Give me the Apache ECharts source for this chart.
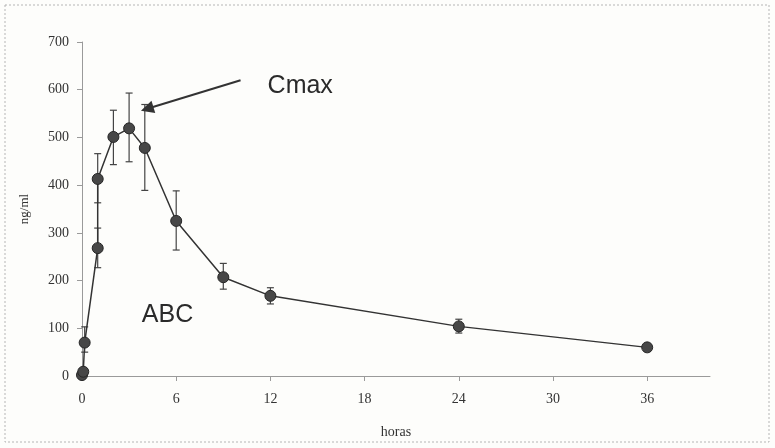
<!DOCTYPE html>
<html>
<head>
<meta charset="utf-8">
<script src="https://cdn.jsdelivr.net/npm/echarts@6/dist/echarts.min.js"></script>
<style>
html,body{margin:0;padding:0;background:#fdfdfb;}
#chart{width:775px;height:448px;}
</style>
</head>
<body>
<div id="chart"></div>
<script>
// horas / ng/ml
const hours = [0, 0.08, 0.17, 1, 1, 2, 3, 4, 6, 9, 12, 24, 36];
const conc = [2, 9, 70, 268, 413, 501, 519, 478, 325, 207, 168, 104, 60];
const errLow = [2, 9, 50, 227, 363, 443, 449, 389, 264, 182, 151, 90, 60];
const errHigh = [2, 9, 103, 310, 466, 557, 593, 569, 388, 236, 185, 119, 60];
const xTicks = [0, 6, 12, 18, 24, 30, 36];

const serif = '"Liberation Serif", "DejaVu Serif", serif';
const sans = '"Liberation Sans", Arial, sans-serif';

var chart = echarts.init(document.getElementById('chart'));

var option = {
  backgroundColor: '#fdfdfb',
  animation: false,
  grid: { left: 82, right: 65, top: 42, bottom: 72 },
  graphic: [{
    type: 'rect',
    shape: { x: 5, y: 5, width: 764, height: 437 },
    style: { fill: 'none', stroke: '#b5b5b5', lineWidth: 1, lineDash: [2, 2] },
    silent: true
  }],
  xAxis: {
    type: 'value',
    min: 0, max: 40, interval: 6,
    name: 'horas',
    nameLocation: 'middle',
    nameGap: 49,
    nameTextStyle: { fontFamily: serif, fontSize: 14, color: '#333' },
    splitLine: { show: false },
    axisLine: { lineStyle: { color: '#9a9a9a', width: 1 } },
    axisTick: { show: true, length: 5, customValues: xTicks, lineStyle: { color: '#9a9a9a' } },
    axisLabel: { customValues: xTicks, margin: 16, fontFamily: serif, fontSize: 14, color: '#333' }
  },
  yAxis: {
    type: 'value',
    min: 0, max: 700, interval: 100,
    name: 'ng/ml',
    nameLocation: 'middle',
    nameGap: 51,
    nameRotate: 90,
    nameTextStyle: { fontFamily: serif, fontSize: 13, color: '#333' },
    splitLine: { show: false },
    axisLine: { show: true, lineStyle: { color: '#9a9a9a', width: 1 } },
    axisTick: { show: true, length: 5, lineStyle: { color: '#9a9a9a' } },
    axisLabel: { margin: 13, fontFamily: serif, fontSize: 14, color: '#333' }
  },
  series: [
    {
      type: 'custom',
      name: 'error',
      data: hours.map(function (h, i) { return [h, errLow[i], errHigh[i]]; }),
      encode: { x: 0, y: [1, 2] },
      z: 2,
      renderItem: function (params, api) {
        var lo = api.value(1), hi = api.value(2);
        if (lo === hi) return null;
        var p1 = api.coord([api.value(0), lo]);
        var p2 = api.coord([api.value(0), hi]);
        var w = 3.5;
        var st = { stroke: '#444', lineWidth: 1.2 };
        return {
          type: 'group',
          children: [
            { type: 'line', shape: { x1: p1[0], y1: p1[1], x2: p2[0], y2: p2[1] }, style: st },
            { type: 'line', shape: { x1: p1[0] - w, y1: p1[1], x2: p1[0] + w, y2: p1[1] }, style: st },
            { type: 'line', shape: { x1: p2[0] - w, y1: p2[1], x2: p2[0] + w, y2: p2[1] }, style: st }
          ]
        };
      }
    },
    {
      type: 'line',
      name: 'conc',
      data: hours.map(function (h, i) { return [h, conc[i]]; }),
      z: 3,
      symbol: 'circle',
      symbolSize: 11,
      showAllSymbol: true,
      lineStyle: { color: '#333', width: 1.5 },
      itemStyle: { color: '#474747', borderColor: '#262626', borderWidth: 1 },
      markLine: {
        silent: true,
        symbol: ['none', 'triangle'],
        symbolSize: 13,
        label: { show: false },
        lineStyle: { color: '#333', width: 2, type: 'solid' },
        data: [[{ coord: [10.1, 620] }, { coord: [4.15, 560] }]]
      },
      markPoint: {
        silent: true,
        symbol: 'rect',
        symbolSize: 1,
        itemStyle: { color: 'rgba(0,0,0,0)' },
        label: {
          show: true, position: 'inside', formatter: '{b}',
          fontFamily: sans, fontSize: 25, color: '#2a2a2a'
        },
        data: [
          { name: 'Cmax', coord: [13.9, 607] },
          { name: 'ABC', coord: [5.45, 128] }
        ]
      }
    }
  ]
};

chart.setOption(option);
</script>
</body>
</html>
